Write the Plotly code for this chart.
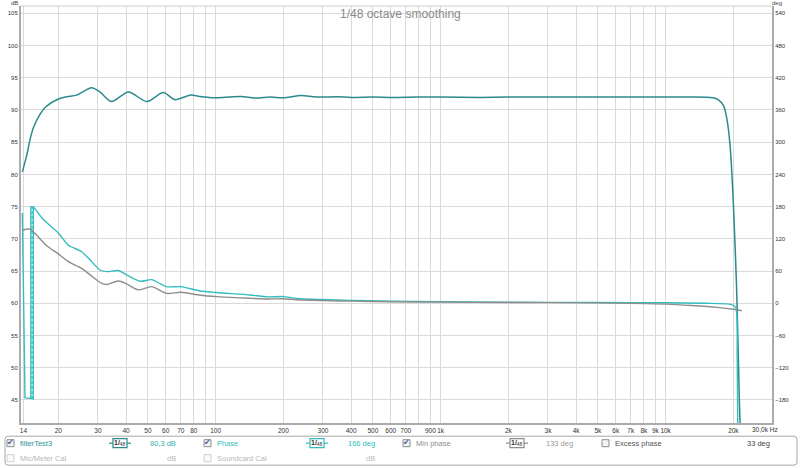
import numpy as np
import plotly.graph_objects as go

# ---------------- data ----------------
spl_freq = [13.84, 14.48, 14.97, 15.48, 16.5, 17.6, 20.0, 21.8, 24.1, 28.1, 30.6, 34.5, 41.0, 49.5,
            58.6, 66.0, 77.0, 85.0, 100, 115, 130, 150, 175, 200, 240, 280, 350, 400, 500, 600,
            800, 1000, 1500, 2000, 3000, 5000, 8000, 12000, 16250, 17100, 18060, 18700, 19340,
            20000, 20710, 21260, 21600]
spl_db = [80.4, 83.0, 85.4, 87.2, 89.2, 90.5, 91.7, 92.06, 92.3, 93.45, 92.8, 91.3, 92.8, 91.3,
          92.7, 91.6, 92.3, 92.1, 91.9, 92.0, 92.1, 91.85, 92.0, 91.9, 92.25, 92.0, 92.05, 91.95,
          92.0, 91.95, 92.0, 92.0, 91.95, 92.0, 92.0, 92.0, 92.0, 92.0, 91.9, 91.6, 90.7, 88.7,
          84.5, 75.5, 61.5, 45.0, 38.0]

# phase before the wrap (deg)
phase_pre_freq = [13.84, 14.22, 15.1, 15.48, 15.48]
phase_pre_deg = [168, -176, -177, -178, 180]
# wrap marker
wrap_freq = [15.1, 15.1, 15.48]
wrap_deg = [-177, 180, 180]
wrap_dash_freq = [15.29, 15.29]
wrap_dash_deg = [-178, 179]
# phase after the wrap (deg)
phase_freq = [15.48, 15.88, 17.15, 20.0, 22.1, 25.4, 27.7, 30.6, 32.8, 37.0, 40.2, 46.2, 52.0,
              60.5, 70.3, 85.4, 101, 142, 170, 200, 230, 300, 400, 600, 1000, 2000, 5000, 10000,
              15000, 19500, 20500, 20800, 21000]
phase_deg = [180, 174, 156, 131, 108.6, 96, 80.6, 62, 59, 61, 53, 41, 44, 31, 31, 23, 20, 15.6,
             12, 12.5, 9, 7, 5.5, 4, 3, 2, 1.5, 1, 0, -2, -8, -100, -300]

# minimum phase (deg)
minph_freq = [13.84, 14.95, 16.0, 17.6, 20.0, 22.1, 25.4, 27.7, 31.2, 32.8, 37.0, 40.2, 45.3,
              52.0, 60.5, 70.3, 85.4, 101, 142, 170, 200, 230, 300, 400, 600, 1000, 2000, 5000,
              10000, 13000, 17000, 20000, 21800]
minph_deg = [136, 138, 127, 108.6, 92, 78, 65, 53, 37, 35, 41.5, 36, 25, 31, 18.6, 20.5, 15,
             12.4, 9.4, 8, 8.5, 6.5, 5, 4, 3, 2.2, 1.5, 0.8, -1.5, -4, -7.5, -11, -13.8]

x_tickvals = [14, 20, 30, 40, 50, 60, 70, 80, 90, 100, 200, 300, 400, 500, 600, 700, 800, 900,
              1000, 2000, 3000, 4000, 5000, 6000, 7000, 8000, 9000, 10000, 20000]
x_ticktext = ["14", "20", "30", "40", "50", "60", "70", "80", " ", "100", "200", "300", "400",
              "500", "600", "700", " ", "900", "1k", "2k", "3k", "4k", "5k", "6k", "7k", "8k",
              "9k", "10k", "20k"]
db_ticks = list(range(45, 106, 5))
deg_ticks = list(range(-180, 541, 60))

title_text = "1/48 octave smoothing"
legend_row1 = [("filterTest3", "80,3 dB", True), ("Phase", "166 deg", True),
               ("Min phase", "133 deg", True), ("Excess phase", "33 deg", False)]
legend_row2 = [("Mic/Meter Cal", "dB"), ("Soundcard Cal", "dB")]

# ---------------- layout geometry ----------------
L, R, T, B = 21, 772, 6, 423.3
W, H = 800, 468
DB_RANGE = [41.43, 106.13]
DEG_RANGE = [12 * (DB_RANGE[0] - 60), 12 * (DB_RANGE[1] - 60)]
X_RANGE = [np.log10(13.65), np.log10(29700)]

def PX(x):
    return (x - L) / (R - L)

def PY(y):
    return (B - y) / (B - T)

C_SPL = "#2b8a8c"
C_PH = "#33bdbd"
C_MIN = "#8e8e8e"
FONT = "Liberation Sans"

fig = go.Figure()
fig.add_trace(go.Scatter(x=phase_freq, y=phase_deg, yaxis="y2", mode="lines",
                         line=dict(color=C_PH, width=1.4, shape="spline", smoothing=0.6)))
fig.add_trace(go.Scatter(x=phase_pre_freq, y=phase_pre_deg, yaxis="y2", mode="lines",
                         line=dict(color=C_PH, width=1.4)))
fig.add_trace(go.Scatter(x=wrap_freq, y=wrap_deg, yaxis="y2", mode="lines",
                         line=dict(color=C_PH, width=1.4)))
fig.add_trace(go.Scatter(x=wrap_dash_freq, y=wrap_dash_deg, yaxis="y2", mode="lines",
                         line=dict(color=C_PH, width=1.2, dash="3px,2px")))
fig.add_trace(go.Scatter(x=minph_freq, y=minph_deg, yaxis="y2", mode="lines",
                         line=dict(color=C_MIN, width=1.4, shape="spline", smoothing=0.8)))
fig.add_trace(go.Scatter(x=spl_freq, y=spl_db, mode="lines",
                         line=dict(color=C_SPL, width=1.5, shape="spline", smoothing=0.8)))

shapes = []
ann = []

# top frame line
shapes.append(dict(type="line", xref="paper", yref="paper", x0=0, x1=1, y0=1, y1=1,
                   line=dict(color="#cfcfcf", width=1)))

# legend panel (rounded rectangle)
x0, x1, y0, y1, r = 5, 797, 436.5, 465.5, 3
def P(x, y):
    return f"{PX(x):.5f},{PY(y):.5f}"
path = (f"M {P(x0 + r, y0)} L {P(x1 - r, y0)} Q {P(x1, y0)} {P(x1, y0 + r)} "
        f"L {P(x1, y1 - r)} Q {P(x1, y1)} {P(x1 - r, y1)} L {P(x0 + r, y1)} "
        f"Q {P(x0, y1)} {P(x0, y1 - r)} L {P(x0, y0 + r)} Q {P(x0, y0)} {P(x0 + r, y0)} Z")
shapes.append(dict(type="path", xref="paper", yref="paper", path=path,
                   line=dict(color="#a8a8a8", width=1), fillcolor="white", layer="below"))

def checkbox(x, y, checked, enabled=True):
    shapes.append(dict(type="rect", xref="paper", yref="paper",
                       x0=PX(x), x1=PX(x + 7), y0=PY(y + 7), y1=PY(y),
                       line=dict(color="#8c8c8c" if enabled else "#cfcfcf", width=1),
                       fillcolor="#f4f4f4" if enabled else "#fafafa"))
    if checked:
        ann.append(dict(x=PX(x + 3.8), y=PY(y + 3.2), xref="paper", yref="paper",
                        text="✔", showarrow=False,
                        font=dict(size=8, color="#4b5f9e", family="DejaVu Sans"),
                        xanchor="center", yanchor="middle"))

def text(x, y, s, color, size=7.5, anchor="left"):
    ann.append(dict(x=PX(x), y=PY(y), xref="paper", yref="paper", text=s,
                    showarrow=False, xanchor=anchor, yanchor="middle",
                    font=dict(size=size, color=color, family=FONT)))

def smooth_icon(cx, cy, color):
    shapes.append(dict(type="rect", xref="paper", yref="paper",
                       x0=PX(cx - 7), x1=PX(cx + 7), y0=PY(cy + 4.5), y1=PY(cy - 4.5),
                       line=dict(color=color, width=1.2), fillcolor="white"))
    for a, b in ((cx - 11, cx - 7), (cx + 7, cx + 11)):
        shapes.append(dict(type="line", xref="paper", yref="paper",
                           x0=PX(a), x1=PX(b), y0=PY(cy), y1=PY(cy),
                           line=dict(color=color, width=1.2)))
    ann.append(dict(x=PX(cx), y=PY(cy), xref="paper", yref="paper",
                    text="<b>1/</b><sub>48</sub>", showarrow=False,
                    xanchor="center", yanchor="middle",
                    font=dict(size=7, color="#333333", family=FONT)))

row1_y = 443.5
cols = [7, 204, 403, 602]
icon_x = [120, 317, 517, None]
val_x = [178, 377, 575, 772]
name_colors = ["#2b9595", C_PH, "#8e8e8e", "#555555"]
val_colors = ["#33b0b0", C_PH, "#9a9a9a", "#444444"]
icon_colors = [C_SPL, C_PH, "#8e8e8e", None]
for i, (name, val, chk) in enumerate(legend_row1):
    checkbox(cols[i], row1_y - 3.5, chk)
    text(cols[i] + 11, row1_y, name, name_colors[i])
    if icon_x[i] is not None:
        smooth_icon(icon_x[i], row1_y, icon_colors[i])
    text(val_x[i], row1_y, val, val_colors[i], anchor="right")

row2_y = 458.5
for i, (name, val) in enumerate(legend_row2):
    checkbox(cols[i], row2_y - 3.5, False, enabled=False)
    text(cols[i] + 11, row2_y, name, "#b8b8b8")
    text(val_x[i], row2_y, val, "#b8b8b8", anchor="right")

# title and axis unit labels
ann.append(dict(x=PX(400), y=PY(14), xref="paper", yref="paper", text=title_text,
                showarrow=False, xanchor="center", yanchor="middle",
                font=dict(size=12, color="#8a8a8a", family=FONT)))
text(14, 2.5, "dB", "#444444", size=6, anchor="center")
text(777, 3, "deg", "#444444", size=6, anchor="center")
text(765, 429.5, "30,0k Hz", "#333333", size=6.5, anchor="center")

grid = "#dadada"
fig.update_layout(
    width=W, height=H,
    margin=dict(l=L, r=W - R, t=T, b=H - B, autoexpand=False),
    paper_bgcolor="white", plot_bgcolor="white",
    showlegend=False, hovermode=False,
    font=dict(family=FONT, color="#333333", size=6.5),
    xaxis=dict(type="log", range=X_RANGE, tickvals=x_tickvals, ticktext=x_ticktext,
               showgrid=True, gridcolor=grid, gridwidth=1, ticks="", zeroline=False,
               showline=True, linecolor="#ababab", linewidth=2, tickangle=0,
               automargin=False,
               tickfont=dict(size=6.5, color="#333333")),
    yaxis=dict(range=DB_RANGE, tickvals=db_ticks, showgrid=True, gridcolor=grid,
               gridwidth=1, ticks="", zeroline=False, showline=True, automargin=False,
               linecolor="#ababab", linewidth=2,
               tickfont=dict(size=6, color="#333333")),
    yaxis2=dict(range=DEG_RANGE, tickvals=deg_ticks, overlaying="y", side="right",
                showgrid=False, ticks="", zeroline=False, showline=True, automargin=False,
                linecolor="#ababab", linewidth=2, ticklabeloverflow="allow",
                tickfont=dict(size=6, color="#333333")),
    shapes=shapes, annotations=ann,
)

fig.write_html("out.html", config={"displayModeBar": False, "staticPlot": True},
               post_script="document.body.style.margin='0';document.body.style.overflow='hidden';")
